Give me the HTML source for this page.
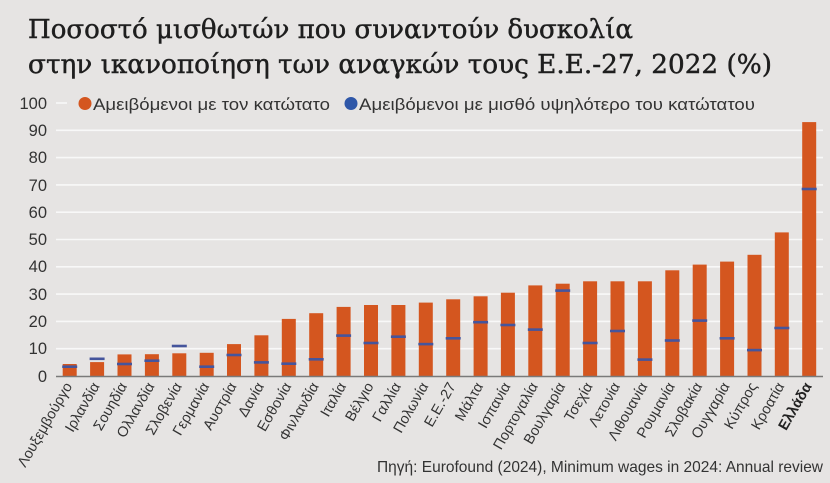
<!DOCTYPE html>
<html><head><meta charset="utf-8"><style>
html,body{margin:0;padding:0;background:#e6e4e3;}
svg{display:block;}
</style></head><body>
<svg width="830" height="483" viewBox="0 0 830 483" xmlns="http://www.w3.org/2000/svg">
<rect x="0" y="0" width="830" height="483" fill="#e6e4e3"/>
<g font-family="'DejaVu Serif','Liberation Serif',serif" font-size="26" fill="#1e1e1e" stroke="#1e1e1e" stroke-width="0.45">
<text x="28" y="38" textLength="605" lengthAdjust="spacingAndGlyphs">Ποσοστό μισθωτών που συναντούν δυσκολία</text>
<text x="28" y="73" textLength="744" lengthAdjust="spacingAndGlyphs">στην ικανοποίηση των αναγκών τους Ε.Ε.-27, 2022 (%)</text>
</g>
<g stroke="#f8f8f8" stroke-width="1.6">
<line x1="56" y1="103" x2="67" y2="103"/>
<line x1="56" y1="130.3" x2="823" y2="130.3"/>
<line x1="56" y1="157.6" x2="823" y2="157.6"/>
<line x1="56" y1="184.9" x2="823" y2="184.9"/>
<line x1="56" y1="212.2" x2="823" y2="212.2"/>
<line x1="56" y1="239.5" x2="823" y2="239.5"/>
<line x1="56" y1="266.8" x2="823" y2="266.8"/>
<line x1="56" y1="294.1" x2="823" y2="294.1"/>
<line x1="56" y1="321.4" x2="823" y2="321.4"/>
<line x1="56" y1="348.7" x2="823" y2="348.7"/>
</g>
<g font-family="'Liberation Sans',sans-serif" font-size="16.5" fill="#333" text-anchor="end">
<text x="47" y="109">100</text>
<text x="47" y="136">90</text>
<text x="47" y="163">80</text>
<text x="47" y="191">70</text>
<text x="47" y="218">60</text>
<text x="47" y="245">50</text>
<text x="47" y="272">40</text>
<text x="47" y="300">30</text>
<text x="47" y="327">20</text>
<text x="47" y="354">10</text>
<text x="47" y="382">0</text>
</g>
<circle cx="85" cy="103.5" r="6.5" fill="#d4561f"/>
<circle cx="351" cy="103.5" r="6.5" fill="#2f57a8"/>
<g font-family="'Liberation Sans',sans-serif" font-size="17" fill="#333">
<text x="93" y="110" textLength="237" lengthAdjust="spacingAndGlyphs">Αμειβόμενοι με τον κατώτατο</text>
<text x="359" y="110" textLength="396" lengthAdjust="spacingAndGlyphs">Αμειβόμενοι με μισθό υψηλότερο του κατώτατου</text>
</g>
<g fill="#d4561f">
<rect x="62.7" y="364.0" width="14" height="12.0"/>
<rect x="90.1" y="362.1" width="14" height="13.9"/>
<rect x="117.5" y="354.4" width="14" height="21.6"/>
<rect x="144.9" y="354.2" width="14" height="21.8"/>
<rect x="172.3" y="353.3" width="14" height="22.7"/>
<rect x="199.7" y="352.8" width="14" height="23.2"/>
<rect x="227.0" y="344.1" width="14" height="31.9"/>
<rect x="254.4" y="335.3" width="14" height="40.7"/>
<rect x="281.8" y="318.9" width="14" height="57.1"/>
<rect x="309.2" y="313.2" width="14" height="62.8"/>
<rect x="336.6" y="306.9" width="14" height="69.1"/>
<rect x="364.0" y="305.0" width="14" height="71.0"/>
<rect x="391.4" y="305.0" width="14" height="71.0"/>
<rect x="418.8" y="302.6" width="14" height="73.4"/>
<rect x="446.2" y="299.3" width="14" height="76.7"/>
<rect x="473.6" y="296.3" width="14" height="79.7"/>
<rect x="500.9" y="292.7" width="14" height="83.3"/>
<rect x="528.3" y="285.4" width="14" height="90.6"/>
<rect x="555.7" y="283.7" width="14" height="92.3"/>
<rect x="583.1" y="281.3" width="14" height="94.7"/>
<rect x="610.5" y="281.3" width="14" height="94.7"/>
<rect x="637.9" y="281.3" width="14" height="94.7"/>
<rect x="665.3" y="270.3" width="14" height="105.7"/>
<rect x="692.7" y="264.6" width="14" height="111.4"/>
<rect x="720.1" y="261.6" width="14" height="114.4"/>
<rect x="747.5" y="254.8" width="14" height="121.2"/>
<rect x="774.8" y="232.4" width="14" height="143.6"/>
<rect x="802.2" y="122.1" width="14" height="253.9"/>
</g>
<g stroke="#45559c" stroke-width="2.6">
<line x1="62.2" y1="366.7" x2="77.2" y2="366.7"/>
<line x1="89.6" y1="358.8" x2="104.6" y2="358.8"/>
<line x1="117.0" y1="364.0" x2="132.0" y2="364.0"/>
<line x1="144.4" y1="360.7" x2="159.4" y2="360.7"/>
<line x1="171.8" y1="346.0" x2="186.8" y2="346.0"/>
<line x1="199.2" y1="366.7" x2="214.2" y2="366.7"/>
<line x1="226.5" y1="355.0" x2="241.5" y2="355.0"/>
<line x1="253.9" y1="362.4" x2="268.9" y2="362.4"/>
<line x1="281.3" y1="363.7" x2="296.3" y2="363.7"/>
<line x1="308.7" y1="359.3" x2="323.7" y2="359.3"/>
<line x1="336.1" y1="335.6" x2="351.1" y2="335.6"/>
<line x1="363.5" y1="343.0" x2="378.5" y2="343.0"/>
<line x1="390.9" y1="336.7" x2="405.9" y2="336.7"/>
<line x1="418.3" y1="344.1" x2="433.3" y2="344.1"/>
<line x1="445.7" y1="338.3" x2="460.7" y2="338.3"/>
<line x1="473.1" y1="322.2" x2="488.1" y2="322.2"/>
<line x1="500.4" y1="325.0" x2="515.4" y2="325.0"/>
<line x1="527.8" y1="329.6" x2="542.8" y2="329.6"/>
<line x1="555.2" y1="290.6" x2="570.2" y2="290.6"/>
<line x1="582.6" y1="343.0" x2="597.6" y2="343.0"/>
<line x1="610.0" y1="331.0" x2="625.0" y2="331.0"/>
<line x1="637.4" y1="359.6" x2="652.4" y2="359.6"/>
<line x1="664.8" y1="340.5" x2="679.8" y2="340.5"/>
<line x1="692.2" y1="320.6" x2="707.2" y2="320.6"/>
<line x1="719.6" y1="338.3" x2="734.6" y2="338.3"/>
<line x1="747.0" y1="350.1" x2="762.0" y2="350.1"/>
<line x1="774.3" y1="328.0" x2="789.3" y2="328.0"/>
<line x1="801.7" y1="189.0" x2="816.7" y2="189.0"/>
</g>
<line x1="56" y1="376.5" x2="823" y2="376.5" stroke="#7a7a7a" stroke-width="1.5"/>
<g font-family="'Liberation Sans',sans-serif" font-size="14.5" fill="#333" text-anchor="end">
<text transform="translate(72.7,386) rotate(-60)">Λουξεμβούργο</text>
<text transform="translate(100.1,386) rotate(-60)">Ιρλανδία</text>
<text transform="translate(127.5,386) rotate(-60)">Σουηδία</text>
<text transform="translate(154.9,386) rotate(-60)">Ολλανδία</text>
<text transform="translate(182.3,386) rotate(-60)">Σλοβενία</text>
<text transform="translate(209.7,386) rotate(-60)">Γερμανία</text>
<text transform="translate(237.0,386) rotate(-60)">Αυστρία</text>
<text transform="translate(264.4,386) rotate(-60)">Δανία</text>
<text transform="translate(291.8,386) rotate(-60)">Εσθονία</text>
<text transform="translate(319.2,386) rotate(-60)">Φινλανδία</text>
<text transform="translate(346.6,386) rotate(-60)">Ιταλία</text>
<text transform="translate(374.0,386) rotate(-60)">Βέλγιο</text>
<text transform="translate(401.4,386) rotate(-60)">Γαλλία</text>
<text transform="translate(428.8,386) rotate(-60)">Πολωνία</text>
<text transform="translate(456.2,386) rotate(-60)">Ε.Ε.-27</text>
<text transform="translate(483.6,386) rotate(-60)">Μάλτα</text>
<text transform="translate(510.9,386) rotate(-60)">Ισπανία</text>
<text transform="translate(538.3,386) rotate(-60)">Πορτογαλία</text>
<text transform="translate(565.7,386) rotate(-60)">Βουλγαρία</text>
<text transform="translate(593.1,386) rotate(-60)">Τσεχία</text>
<text transform="translate(620.5,386) rotate(-60)">Λετονία</text>
<text transform="translate(647.9,386) rotate(-60)">Λιθουανία</text>
<text transform="translate(675.3,386) rotate(-60)">Ρουμανία</text>
<text transform="translate(702.7,386) rotate(-60)">Σλοβακία</text>
<text transform="translate(730.1,386) rotate(-60)">Ουγγαρία</text>
<text transform="translate(757.5,386) rotate(-60)">Κύπρος</text>
<text transform="translate(784.8,386) rotate(-60)">Κροατία</text>
<text transform="translate(812.2,386) rotate(-60)" font-weight="bold" fill="#222">Ελλάδα</text>
</g>
<text x="823" y="472" text-anchor="end" font-family="'Liberation Sans',sans-serif" font-size="16" fill="#333" textLength="446" lengthAdjust="spacingAndGlyphs">Πηγή: Eurofound (2024), Minimum wages in 2024: Annual review</text>
</svg>
</body></html>
